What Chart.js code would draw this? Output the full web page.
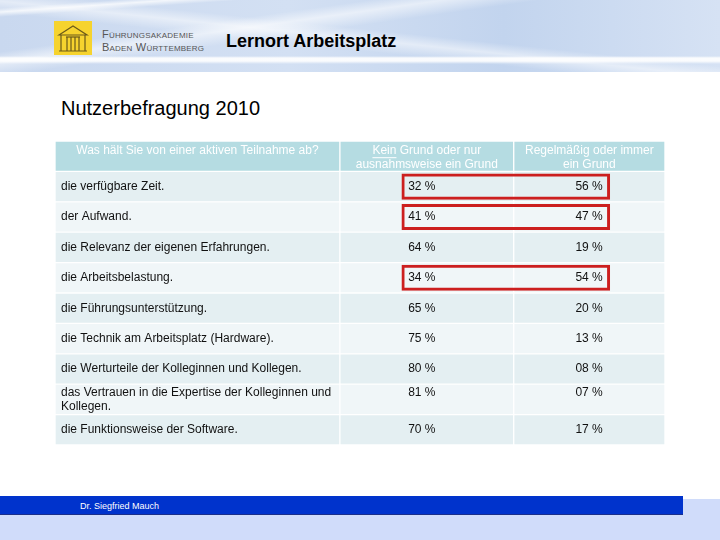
<!DOCTYPE html>
<html>
<head>
<meta charset="utf-8">
<script src="https://cdn.jsdelivr.net/npm/chart.js@4"></script>
<style>
  body { margin: 0; width: 720px; height: 540px; position: relative; background: #fff; overflow: hidden; font-family: "Liberation Sans", Arial, sans-serif; }
  .banner { position: absolute; left: 0; top: 0; width: 720px; height: 72px;
    background:
      linear-gradient(to bottom, transparent 56px, rgba(255,255,255,0.9) 58px, rgba(255,255,255,0.9) 61px, transparent 64px),
      linear-gradient(176deg, transparent 8px, rgba(255,255,255,0.75) 12px, transparent 17px),
      linear-gradient(172deg, transparent 30%, rgba(255,255,255,0.55) 36%, transparent 44%),
      linear-gradient(186deg, transparent 45%, rgba(255,255,255,0.5) 52%, transparent 60%),
      linear-gradient(to right, #c9d8ef, #d3e0f3 40%, #c2d4ee 70%, #d6e2f4);
  }
  .logo { position: absolute; left: 54px; top: 21px; }
  .brand { position: absolute; left: 102px; top: 28px; font-size: 11px; line-height: 13px; color: #555; letter-spacing: 0.2px; font-variant: small-caps; }
  .title { position: absolute; left: 226px; top: 31px; font-size: 18px; font-weight: bold; color: #000; }
  .subtitle { position: absolute; left: 61px; top: 97px; font-size: 20px; color: #000; }
  #wrap { position: absolute; left: 55px; top: 141px; width: 610px; height: 304px; }
  .footlight { position: absolute; left: 0; top: 499px; width: 720px; height: 41px; background: #d0dcfa; }
  .footbar { position: absolute; left: 0; top: 496px; width: 683px; height: 18px; background: #0033cc; border-bottom: 1px solid #1a2f8a; }
  .footbar span { position: absolute; left: 80px; top: 5px; font-size: 9px; color: #fff; }
</style>
</head>
<body>
<div class="banner"></div>
<svg class="logo" width="38" height="34" viewBox="0 0 38 34">
  <rect x="0" y="0" width="38" height="34" fill="#f6d32e"/>
  <g fill="none" stroke="#6b5a1a" stroke-width="1.2">
    <path d="M5 14 L19 5 L33 14 Z"/>
    <path d="M7 14 L7 30 M31 14 L31 30 M5 30 L33 30"/>
    <path d="M13 16 L13 30 M17 16 L17 30 M21 16 L21 30 M25 16 L25 30"/>
    <path d="M12 16 L26 16"/>
  </g>
</svg>
<div class="brand">Führungsakademie<br>Baden Württemberg</div>
<div class="title">Lernort Arbeitsplatz</div>
<div class="subtitle">Nutzerbefragung 2010</div>
<div id="wrap"><canvas id="tabelle" width="610" height="304"></canvas></div>
<div class="footlight"></div>
<div class="footbar"><span>Dr. Siegfried Mauch</span></div>
<script>
// Daten
const frage = 'Was hält Sie von einer aktiven Teilnahme ab?';
const spaltenKoepfe = [['Kein Grund oder nur', 'ausnahmsweise ein Grund'], ['Regelmäßig oder immer', 'ein Grund']];
const gruende = [
    'die verfügbare Zeit.',
    'der Aufwand.',
    'die Relevanz der eigenen Erfahrungen.',
    'die Arbeitsbelastung.',
    'die Führungsunterstützung.',
    'die Technik am Arbeitsplatz (Hardware).',
    'die Werturteile der Kolleginnen und Kollegen.',
    'das Vertrauen in die Expertise der Kolleginnen und Kollegen.',
    'die Funktionsweise der Software.'
];
const keinGrund = [32, 41, 64, 34, 65, 75, 80, 81, 70];
const regelGrund = [56, 47, 19, 54, 20, 13, 8, 7, 17];
const markiert = [0, 1, 3];

// Layout (Tabellenbreite in %)
const spalten = [0, 46.7, 75.2, 100];
const rahmen = [56.8, 91];
const kopfFarbe = '#b5dce2';
const zeileDunkel = '#e4eff2';
const zeileHell = '#f0f6f8';

const zeilen = [frage, ...gruende];
const fmt = v => String(v).padStart(2, '0') + ' %';

function zellFarbe(ctx) {
    if (ctx.dataIndex === 0) return kopfFarbe;
    return ctx.dataIndex % 2 ? zeileDunkel : zeileHell;
}

function spalte(i) {
    return {
        data: zeilen.map(() => [spalten[i], spalten[i + 1]]),
        backgroundColor: zellFarbe,
        borderColor: '#ffffff',
        borderWidth: 1,
        borderSkipped: false,
        grouped: false,
        categoryPercentage: 1,
        barPercentage: 1,
        order: 1
    };
}

const textPlugin = {
    id: 'tabellenText',
    afterDatasetsDraw(chart) {
        const { ctx, scales: { x, y } } = chart;
        ctx.save();
        ctx.textBaseline = 'middle';

        // Kopfzeile
        const yk = y.getPixelForValue(0);
        ctx.fillStyle = '#ffffff';
        ctx.font = '12px "Liberation Sans", Arial, sans-serif';
        ctx.textAlign = 'center';
        ctx.fillText(frage, (x.getPixelForValue(spalten[0]) + x.getPixelForValue(spalten[1])) / 2, yk - 6);
        spaltenKoepfe.forEach((kopf, k) => {
            const cx = (x.getPixelForValue(spalten[k + 1]) + x.getPixelForValue(spalten[k + 2])) / 2;
            kopf.forEach((t, j) => ctx.fillText(t, cx, yk - 6 + j * 14));
        });
        // "Kein" unterstreichen
        const k0 = spaltenKoepfe[0][0];
        const cx0 = (x.getPixelForValue(spalten[1]) + x.getPixelForValue(spalten[2])) / 2;
        const wGes = ctx.measureText(k0).width;
        const wKein = ctx.measureText('Kein').width;
        ctx.fillRect(cx0 - wGes / 2, yk - 6 + 7, wKein, 1);

        // Datenzeilen
        ctx.fillStyle = '#111111';
        const maxW = x.getPixelForValue(spalten[1]) - x.getPixelForValue(spalten[0]) - 10;
        gruende.forEach((g, i) => {
            const yc = y.getPixelForValue(i + 1);
            ctx.textAlign = 'left';
            const woerter = g.split(' ');
            const linien = [];
            let akt = '';
            woerter.forEach(w => {
                const test = akt ? akt + ' ' + w : w;
                if (ctx.measureText(test).width > maxW && akt) { linien.push(akt); akt = w; } else { akt = test; }
            });
            linien.push(akt);
            const y0 = linien.length > 1 ? yc - 7 : yc;
            linien.forEach((l, j) => ctx.fillText(l, x.getPixelForValue(spalten[0]) + 6, y0 + j * 14));
            ctx.fillText(fmt(keinGrund[i]), x.getPixelForValue(57.9), y0);
            ctx.textAlign = 'right';
            ctx.fillText(fmt(regelGrund[i]), x.getPixelForValue(89.8), y0);
        });
        ctx.restore();
    }
};

new Chart(document.getElementById('tabelle').getContext('2d'), {
    type: 'bar',
    data: {
        labels: zeilen,
        datasets: [
            {
                label: 'markiert',
                data: zeilen.map((_, i) => (i > 0 && markiert.includes(i - 1)) ? rahmen : null),
                backgroundColor: 'rgba(0,0,0,0)',
                borderColor: '#cc1f1f',
                borderWidth: 3,
                borderSkipped: false,
                grouped: false,
                categoryPercentage: 1,
                barPercentage: 0.86,
                order: 0
            },
            spalte(0),
            spalte(1),
            spalte(2)
        ]
    },
    options: {
        indexAxis: 'y',
        responsive: false,
        animation: false,
        layout: { padding: 0 },
        plugins: { legend: { display: false }, tooltip: { enabled: false } },
        scales: {
            x: { type: 'linear', min: 0, max: 100, display: false },
            y: { type: 'category', display: false }
        }
    },
    plugins: [textPlugin]
});
</script>
</body>
</html>
